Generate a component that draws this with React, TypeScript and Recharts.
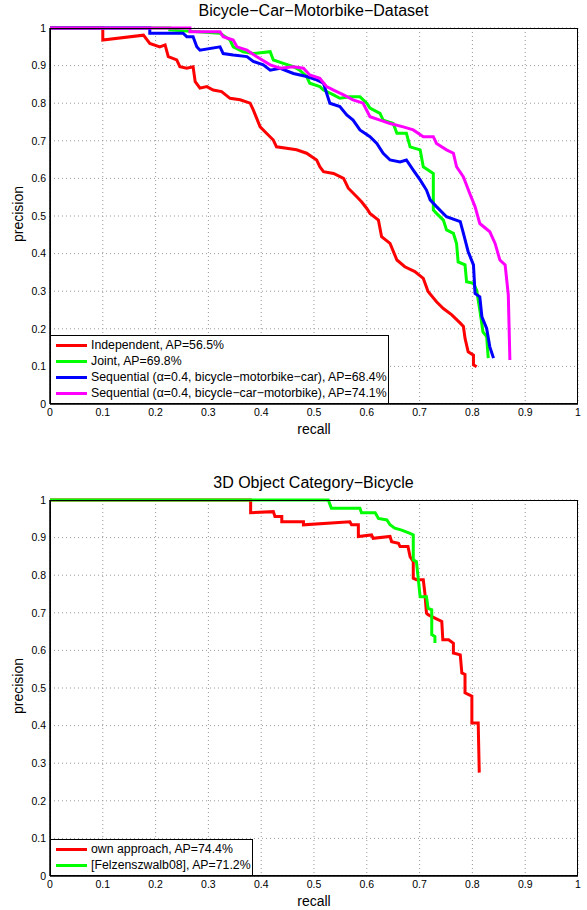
import { LineChart, Line, XAxis, YAxis, CartesianGrid } from 'recharts';

const ticks = [0, 0.1, 0.2, 0.3, 0.4, 0.5, 0.6, 0.7, 0.8, 0.9, 1];

// Bicycle-Car-Motorbike-Dataset
const independentRecall = [0, 0.1, 0.1, 0.177, 0.189, 0.208, 0.218, 0.224, 0.24, 0.246, 0.259, 0.271, 0.275, 0.284, 0.297, 0.309, 0.325, 0.341, 0.36, 0.379, 0.385, 0.398, 0.41, 0.423, 0.429, 0.448, 0.467, 0.486, 0.505, 0.511, 0.518, 0.537, 0.556, 0.565, 0.581, 0.59, 0.6, 0.606, 0.622, 0.628, 0.644, 0.657, 0.672, 0.691, 0.707, 0.716, 0.732, 0.745, 0.761, 0.777, 0.783, 0.786, 0.792, 0.802, 0.802, 0.808];
const independentPrecision = [1, 1, 0.968, 0.981, 0.959, 0.95, 0.955, 0.924, 0.915, 0.897, 0.893, 0.897, 0.857, 0.84, 0.844, 0.835, 0.831, 0.813, 0.809, 0.8, 0.782, 0.737, 0.72, 0.702, 0.684, 0.68, 0.676, 0.667, 0.649, 0.631, 0.618, 0.613, 0.6, 0.574, 0.551, 0.538, 0.52, 0.507, 0.489, 0.445, 0.427, 0.383, 0.365, 0.352, 0.334, 0.299, 0.272, 0.254, 0.237, 0.215, 0.206, 0.175, 0.139, 0.13, 0.104, 0.099];

const jointRecall = [0, 0.227, 0.227, 0.322, 0.341, 0.347, 0.366, 0.385, 0.417, 0.423, 0.442, 0.461, 0.473, 0.486, 0.492, 0.511, 0.518, 0.537, 0.549, 0.568, 0.587, 0.6, 0.606, 0.625, 0.631, 0.65, 0.657, 0.675, 0.682, 0.701, 0.707, 0.726, 0.726, 0.732, 0.745, 0.751, 0.764, 0.77, 0.773, 0.786, 0.789, 0.802, 0.808, 0.814, 0.82, 0.827, 0.83];
const jointPrecision = [1, 1, 0.995, 0.986, 0.968, 0.95, 0.937, 0.932, 0.937, 0.915, 0.906, 0.897, 0.888, 0.871, 0.853, 0.844, 0.835, 0.822, 0.813, 0.817, 0.817, 0.8, 0.787, 0.773, 0.755, 0.746, 0.72, 0.72, 0.684, 0.676, 0.631, 0.613, 0.516, 0.507, 0.489, 0.463, 0.454, 0.427, 0.378, 0.37, 0.325, 0.321, 0.303, 0.25, 0.192, 0.179, 0.122];

const seqMcRecall = [0, 0.189, 0.189, 0.252, 0.259, 0.271, 0.278, 0.284, 0.322, 0.328, 0.347, 0.373, 0.385, 0.404, 0.417, 0.436, 0.461, 0.486, 0.505, 0.518, 0.524, 0.53, 0.549, 0.562, 0.574, 0.587, 0.606, 0.619, 0.631, 0.644, 0.663, 0.675, 0.688, 0.701, 0.713, 0.72, 0.732, 0.751, 0.777, 0.783, 0.792, 0.802, 0.805, 0.814, 0.818, 0.827, 0.833, 0.84];
const seqMcPrecision = [1, 1, 0.986, 0.986, 0.977, 0.977, 0.95, 0.941, 0.95, 0.932, 0.928, 0.924, 0.911, 0.902, 0.888, 0.893, 0.879, 0.871, 0.862, 0.853, 0.826, 0.8, 0.791, 0.769, 0.755, 0.729, 0.711, 0.693, 0.667, 0.649, 0.644, 0.649, 0.622, 0.596, 0.569, 0.543, 0.525, 0.498, 0.485, 0.454, 0.405, 0.37, 0.294, 0.285, 0.232, 0.201, 0.152, 0.122];

const seqCmRecall = [0, 0.265, 0.265, 0.322, 0.328, 0.347, 0.354, 0.373, 0.391, 0.417, 0.436, 0.461, 0.48, 0.492, 0.511, 0.524, 0.537, 0.556, 0.574, 0.593, 0.606, 0.625, 0.644, 0.669, 0.688, 0.707, 0.726, 0.732, 0.751, 0.764, 0.77, 0.783, 0.795, 0.805, 0.814, 0.833, 0.843, 0.852, 0.862, 0.868, 0.871];
const seqCmPrecision = [1, 1, 0.99, 0.99, 0.977, 0.968, 0.95, 0.941, 0.924, 0.902, 0.893, 0.897, 0.893, 0.875, 0.866, 0.844, 0.835, 0.822, 0.809, 0.8, 0.764, 0.755, 0.746, 0.737, 0.729, 0.711, 0.711, 0.693, 0.676, 0.667, 0.631, 0.604, 0.56, 0.525, 0.48, 0.458, 0.427, 0.383, 0.37, 0.29, 0.117];

// 3D Object Category-Bicycle
const ownRecall = [0, 0.38, 0.38, 0.423, 0.426, 0.439, 0.439, 0.48, 0.48, 0.568, 0.571, 0.584, 0.584, 0.609, 0.612, 0.644, 0.647, 0.66, 0.663, 0.678, 0.682, 0.688, 0.688, 0.694, 0.707, 0.71, 0.713, 0.716, 0.729, 0.742, 0.744, 0.755, 0.764, 0.764, 0.777, 0.78, 0.786, 0.786, 0.792, 0.799, 0.799, 0.811, 0.813];
const ownPrecision = [1, 1, 0.966, 0.969, 0.956, 0.956, 0.942, 0.942, 0.934, 0.942, 0.934, 0.934, 0.903, 0.907, 0.898, 0.903, 0.889, 0.885, 0.876, 0.876, 0.849, 0.836, 0.792, 0.788, 0.788, 0.752, 0.699, 0.695, 0.686, 0.677, 0.628, 0.628, 0.619, 0.593, 0.588, 0.54, 0.536, 0.487, 0.483, 0.478, 0.407, 0.407, 0.275];

const felzRecall = [0, 0.527, 0.533, 0.587, 0.59, 0.616, 0.622, 0.638, 0.644, 0.653, 0.666, 0.682, 0.688, 0.688, 0.694, 0.697, 0.701, 0.713, 0.716, 0.723, 0.723, 0.729, 0.729];
const felzPrecision = [1, 1, 0.978, 0.978, 0.966, 0.966, 0.951, 0.947, 0.934, 0.925, 0.92, 0.911, 0.907, 0.841, 0.836, 0.796, 0.743, 0.743, 0.712, 0.708, 0.642, 0.637, 0.62];

const zip = (r: number[], p: number[]) => r.map((x, i) => ({ recall: x, precision: p[i] }));

const font = '"Liberation Sans", Arial, Helvetica, sans-serif';

type Series = { name: string; color: string; data: { recall: number; precision: number }[] };

const fmt = (v: number) => (v === 0 ? '0' : v === 1 ? '1' : v.toFixed(1));

const PRCurve = ({ top, title, series, legendWidth }: { top: number; title: string; series: Series[]; legendWidth: number }) => {
  const plotLeft = 50;
  const plotTop = 28;
  const plotW = 528;
  const plotH = 376;
  const rowH = 16;
  const legendH = series.length * rowH + 5;

  return (
    <div style={{ position: 'absolute', left: 0, top, width: 587, height: 440 }}>
      <LineChart width={587} height={440} margin={{ top: plotTop, right: 9, left: 20, bottom: 16 }}>
        <CartesianGrid stroke="#999" strokeDasharray="1 3" />
        <XAxis
          type="number"
          dataKey="recall"
          domain={[0, 1]}
          ticks={ticks}
          tickFormatter={fmt}
          height={20}
          tickLine={false}
          tickSize={3}
          tickMargin={2}
          axisLine={{ stroke: '#000', strokeWidth: 1.5 }}
          tick={{ fontSize: 10.5, fill: '#000' }}
        />
        {/* inward tick marks on all four sides */}
        <XAxis xAxisId="b" type="number" domain={[0, 1]} ticks={ticks} orientation="bottom" mirror tick={false} tickSize={4} axisLine={false} tickLine={{ stroke: '#000' }} />
        <XAxis xAxisId="t" type="number" domain={[0, 1]} ticks={ticks} orientation="top" mirror tick={false} tickSize={4} axisLine={false} tickLine={{ stroke: '#000' }} />
        <YAxis
          type="number"
          dataKey="precision"
          domain={[0, 1]}
          ticks={ticks}
          tickFormatter={fmt}
          width={30}
          tickLine={false}
          tickSize={2}
          tickMargin={2}
          axisLine={{ stroke: '#000', strokeWidth: 1.5 }}
          tick={{ fontSize: 10.5, fill: '#000' }}
        />
        <YAxis yAxisId="l" type="number" domain={[0, 1]} ticks={ticks} orientation="left" mirror tick={false} tickSize={4} axisLine={false} tickLine={{ stroke: '#000' }} />
        <YAxis yAxisId="r" type="number" domain={[0, 1]} ticks={ticks} orientation="right" mirror tick={false} tickSize={4} axisLine={false} tickLine={{ stroke: '#000' }} />
        {series.map((s) => (
          <Line
            key={s.name}
            data={s.data}
            dataKey="precision"
            type="linear"
            stroke={s.color}
            strokeWidth={3}
            dot={false}
            isAnimationActive={false}
          />
        ))}
      </LineChart>

      {/* frame */}
      <div
        style={{
          position: 'absolute',
          left: plotLeft,
          top: plotTop,
          width: plotW,
          height: plotH,
          border: '1.5px solid #000',
          boxSizing: 'border-box',
          pointerEvents: 'none',
        }}
      />

      <div style={{ position: 'absolute', left: 0, width: 627, top: 2, textAlign: 'center', fontSize: 16, fontFamily: font, color: '#000' }}>
        {title}
      </div>
      <div style={{ position: 'absolute', left: 50, width: 528, top: 421, textAlign: 'center', fontSize: 14, fontFamily: font }}>
        recall
      </div>
      <div
        style={{
          position: 'absolute',
          left: 18 - 60,
          top: 214 - 8,
          width: 120,
          height: 16,
          lineHeight: '16px',
          textAlign: 'center',
          fontSize: 14,
          fontFamily: font,
          transform: 'rotate(-90deg)',
        }}
      >
        precision
      </div>

      {/* legend */}
      <div
        style={{
          position: 'absolute',
          left: plotLeft,
          top: plotTop + plotH - legendH,
          width: legendWidth,
          height: legendH,
          background: '#fff',
          border: '1.5px solid #000',
          boxSizing: 'border-box',
          paddingTop: 1,
          fontFamily: font,
          fontSize: 12.3,
        }}
      >
        {series.map((s) => (
          <div key={s.name} style={{ height: rowH, display: 'flex', alignItems: 'center', whiteSpace: 'nowrap' }}>
            <span style={{ display: 'inline-block', width: 31, height: 3, background: s.color, marginLeft: 5, marginRight: 4 }} />
            <span>{s.name}</span>
          </div>
        ))}
      </div>
    </div>
  );
};

const datasetSeries: Series[] = [
  { name: 'Independent, AP=56.5%', color: '#ff0000', data: zip(independentRecall, independentPrecision) },
  { name: 'Joint, AP=69.8%', color: '#00ff00', data: zip(jointRecall, jointPrecision) },
  { name: 'Sequential (α=0.4, bicycle−motorbike−car), AP=68.4%', color: '#0000ff', data: zip(seqMcRecall, seqMcPrecision) },
  { name: 'Sequential (α=0.4, bicycle−car−motorbike), AP=74.1%', color: '#ff00ff', data: zip(seqCmRecall, seqCmPrecision) },
];

const bicycleSeries: Series[] = [
  { name: 'own approach, AP=74.4%', color: '#ff0000', data: zip(ownRecall, ownPrecision) },
  { name: '[Felzenszwalb08], AP=71.2%', color: '#00ff00', data: zip(felzRecall, felzPrecision) },
];

export default function App() {
  return (
    <div style={{ position: 'absolute', left: 0, top: 0, width: 587, height: 910, background: '#fff', fontFamily: font }}>
      <PRCurve top={0} title="Bicycle−Car−Motorbike−Dataset" series={datasetSeries} legendWidth={339} />
      <PRCurve top={472} title="3D Object Category−Bicycle" series={bicycleSeries} legendWidth={203} />
    </div>
  );
}
